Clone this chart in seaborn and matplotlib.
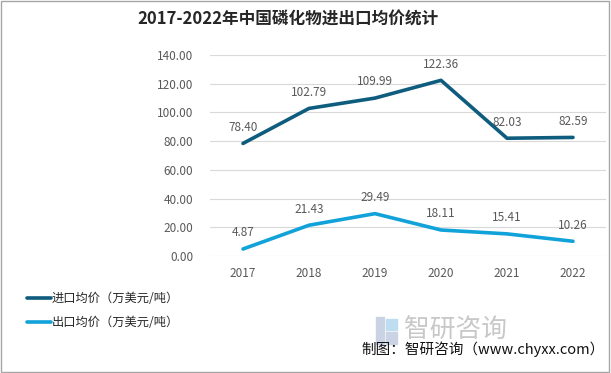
import matplotlib
matplotlib.use("Agg")
import matplotlib.pyplot as plt
import seaborn as sns
import pandas as pd
from matplotlib.patches import Rectangle

years = ["2017", "2018", "2019", "2020", "2021", "2022"]
import_price = [78.40, 102.79, 109.99, 122.36, 82.03, 82.59]
export_price = [4.87, 21.43, 29.49, 18.11, 15.41, 10.26]
series_names = ["进口均价（万美元/吨）", "出口均价（万美元/吨）"]
colors = ["#0E5C7E", "#12A2DA"]
yticks = [0, 20, 40, 60, 80, 100, 120, 140]

sns.set_theme(style="white")
plt.rcParams['font.family'] = ['Noto Sans CJK SC', 'DejaVu Sans']

df = pd.DataFrame({
    "year": years * 2,
    "value": import_price + export_price,
    "series": [series_names[0]] * len(years) + [series_names[1]] * len(years),
})
df["x"] = list(range(len(years))) * 2

fig = plt.figure(figsize=(6.11, 3.73), dpi=100)
ax = fig.add_axes([210/611, 1-256/373, 396/611, 201/373])

sns.lineplot(data=df, x="x", y="value", hue="series", palette=colors,
             linewidth=2.6, ax=ax, legend=False, sort=False)

for vals in (import_price, export_price):
    for i, v in enumerate(vals):
        ax.annotate(f"{v:.2f}", (i, v), xytext=(0, 7), textcoords="offset points",
                    ha="center", va="bottom", fontsize=8.5, color="#595959")

ax.set_xlim(-0.5, len(years) - 0.5)
ax.set_ylim(0, 140)
ax.set_yticks(yticks)
ax.set_yticklabels([f"{t:.2f}" for t in yticks], fontsize=8.5, color="#595959")
ax.set_xticks(range(len(years)))
ax.set_xticklabels(years, fontsize=8.5, color="#595959")
ax.tick_params(axis="both", length=0, pad=8)
ax.tick_params(axis="y", pad=12)
ax.grid(axis="y", color="#D9D9D9", linewidth=0.8)
ax.set_axisbelow(True)
for s in ax.spines.values():
    s.set_visible(False)
ax.set_xlabel("")
ax.set_ylabel("")

# title
fig.text(288/611, 1-20/373, "2017-2022年中国磷化物进出口均价统计", ha="center", va="center",
         fontsize=12, fontweight="bold", color="#262626")

# legend
for k, (name, c) in enumerate(zip(series_names, colors)):
    y = 1 - (298 + 24*k)/373
    fig.add_artist(plt.Line2D([27/611, 51/611], [y, y], color=c, linewidth=2.6,
                              transform=fig.transFigure))
    fig.text(52/611, y, name, ha="left", va="center", fontsize=8.8, color="#262626")

# watermark
fig.add_artist(Rectangle((376/611, 1-344/373), 8/611, 27/373, color="#C9D3E3",
                         transform=fig.transFigure))
fig.add_artist(Rectangle((386/611, 1-344/373), 11/611, 12/373, color="#C9D3E3",
                         transform=fig.transFigure))
fig.add_artist(Rectangle((386/611, 1-330/373), 11/611, 11/373, color="#BFDDF1",
                         transform=fig.transFigure))
fig.text(404/611, 1-330/373, "智研咨询", ha="left", va="center", fontsize=18.5,
         color="#C8C8C8")

fig.text(605/611, 1-349/373, "制图：智研咨询（www.chyxx.com）", ha="right", va="center",
         fontsize=10.5, color="#111111")

# outer border
fig.add_artist(Rectangle((0.002, 0.003), 0.995, 0.994, fill=False, edgecolor="#A6A6A6",
                         linewidth=1, transform=fig.transFigure))

fig.savefig("out.png", dpi=100)
